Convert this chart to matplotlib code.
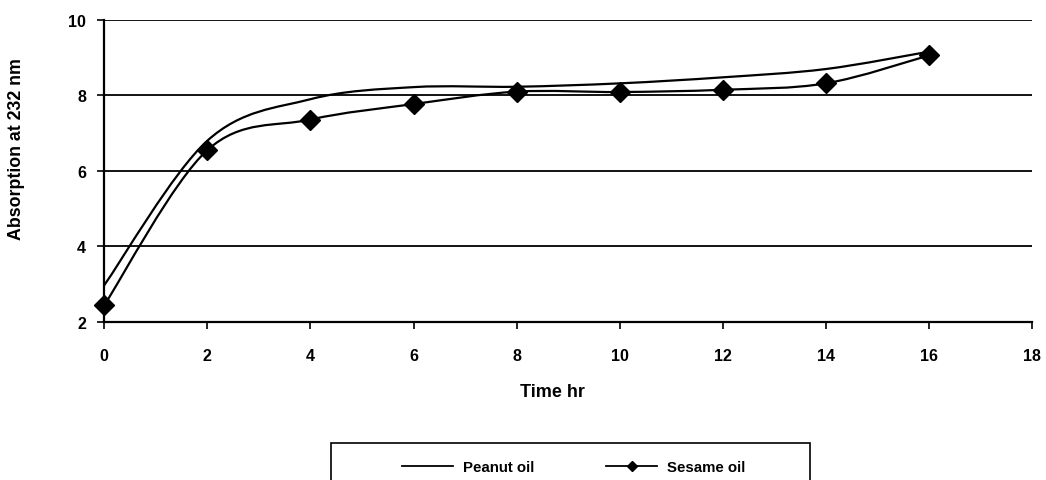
import matplotlib
matplotlib.use("Agg")
import matplotlib.pyplot as plt
from matplotlib.path import Path
from matplotlib.patches import PathPatch, Rectangle
from matplotlib.lines import Line2D
import numpy as np

plt.rcParams['font.family'] = ['Liberation Sans', 'DejaVu Sans']
plt.rcParams['font.weight'] = 'bold'

time_hr = [0, 2, 4, 6, 8, 10, 12, 14, 16]
peanut_oil = [2.97, 6.80, 7.90, 8.22, 8.23, 8.32, 8.48, 8.70, 9.16]
sesame_oil = [2.44, 6.55, 7.36, 7.77, 8.10, 8.09, 8.15, 8.32, 9.06]
x_ticks = [0, 2, 4, 6, 8, 10, 12, 14, 16, 18]
y_ticks = [2, 4, 6, 8, 10]


def smooth_path(xs, ys):
    """Excel-style smoothed line: cubic Bezier through each data point."""
    pts = np.column_stack([xs, ys]).astype(float)
    n = len(pts)
    verts = [pts[0]]
    codes = [Path.MOVETO]
    for i in range(n - 1):
        p0 = pts[i - 1] if i > 0 else pts[i]
        p1 = pts[i]
        p2 = pts[i + 1]
        p3 = pts[i + 2] if i + 2 < n else pts[i + 1]
        c1 = p1 + (p2 - p0) / 6.0
        c2 = p2 - (p3 - p1) / 6.0
        verts += [c1, c2, p2]
        codes += [Path.CURVE4] * 3
    return Path(verts, codes)


W, H = 1046, 481
fig = plt.figure(figsize=(W / 100, H / 100), dpi=100)
ax = fig.add_axes([104.3 / W, 1 - 322.7 / H, (1032 - 104.3) / W, (322.7 - 21) / H])

ax.set_xlim(0, 18)
ax.set_ylim(2, 10)
ax.set_xticks(x_ticks)
ax.set_yticks(y_ticks)
ax.tick_params(axis='both', direction='out', length=5, width=1.2, labelsize=11.5,
               color='black')
ax.tick_params(axis='x', pad=14)
ax.tick_params(axis='y', pad=8)
for lab in ax.get_xticklabels() + ax.get_yticklabels():
    lab.set_fontweight('bold')

ax.grid(axis='y', color='black', linewidth=1.3)
ax.set_axisbelow(True)
for s in ['top', 'right']:
    ax.spines[s].set_visible(False)
for s in ['left', 'bottom']:
    ax.spines[s].set_linewidth(1.6)
    ax.spines[s].set_zorder(5)

ax.add_patch(PathPatch(smooth_path(time_hr, peanut_oil), facecolor='none',
                       edgecolor='black', linewidth=1.6, zorder=3))
ax.add_patch(PathPatch(smooth_path(time_hr, sesame_oil), facecolor='none',
                       edgecolor='black', linewidth=1.6, zorder=3))
ax.plot(time_hr, sesame_oil, linestyle='none', marker='D', markersize=10,
        color='black', zorder=6, clip_on=False)

fig.text(552 / W, 1 - 393 / H, 'Time hr', fontsize=13, fontweight='bold',
         ha='center', va='center')
fig.text(17 / W, 1 - 149 / H, 'Absorption at 232 nm', fontsize=12.8,
         fontweight='bold', rotation=90, ha='center', va='center')

# legend
fig.patches.append(Rectangle((331 / W, 1 - 500 / H), (810 - 331) / W, (500 - 444) / H,
                             transform=fig.transFigure, facecolor='white',
                             edgecolor='black', linewidth=1.2))
handles = [Line2D([], [], color='black', linewidth=1.3),
           Line2D([], [], color='black', linewidth=1.3, marker='D', markersize=5.5)]
fig.legend(handles, ['Peanut oil', 'Sesame oil'], ncol=2, frameon=False,
           loc='center left', bbox_to_anchor=(402 / W, 1 - 468 / H),
           prop={'size': 10.8, 'weight': 'bold'}, handlelength=3.4,
           handletextpad=0.67, columnspacing=4.8, borderaxespad=0, borderpad=0)

fig.savefig('out.png', dpi=100)
